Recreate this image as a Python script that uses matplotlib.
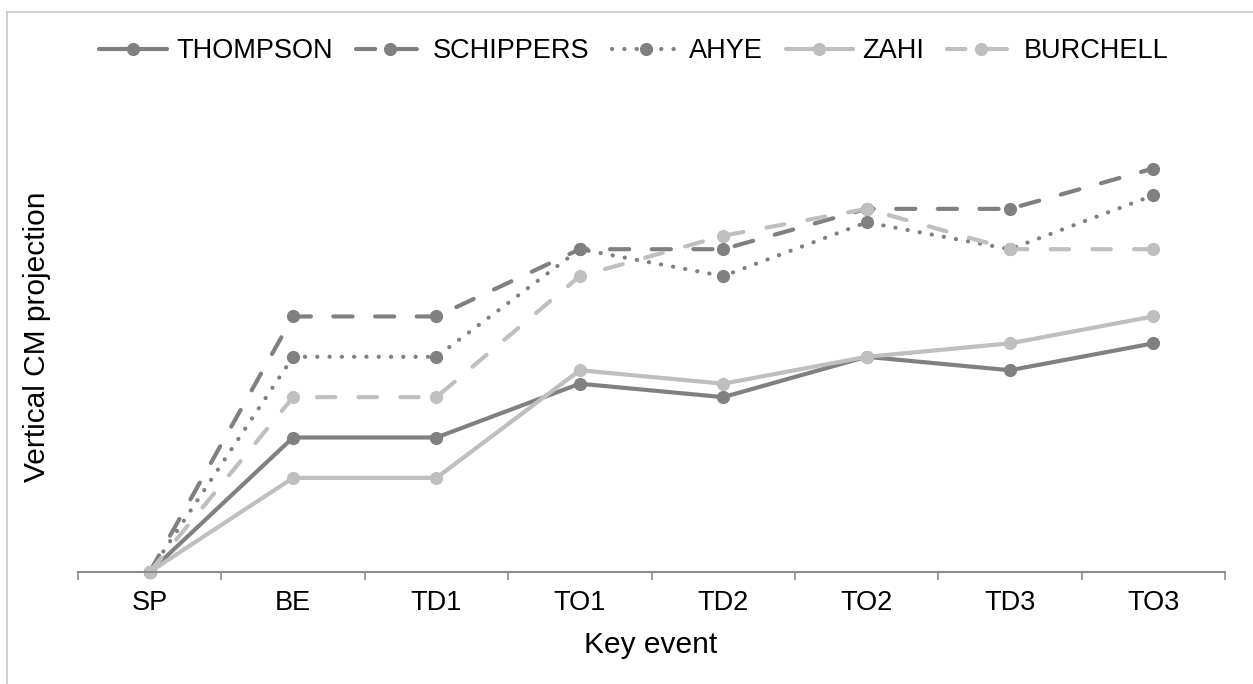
import matplotlib
matplotlib.use("Agg")
import matplotlib.pyplot as plt
from matplotlib.lines import Line2D

plt.rcParams['font.family'] = ['Liberation Sans', 'DejaVu Sans']

events = ["SP", "BE", "TD1", "TO1", "TD2", "TO2", "TD3", "TO3"]
thompson = [0, 10, 10, 14, 13, 16, 15, 17]
schippers = [0, 19, 19, 24, 24, 27, 27, 30]
ahye = [0, 16, 16, 24, 22, 26, 24, 28]
zahi = [0, 7, 7, 15, 14, 16, 17, 19]
burchell = [0, 13, 13, 22, 25, 27, 24, 24]

DARK = "#808080"
LIGHT = "#bfbfbf"

W, H = 1253, 684
fig = plt.figure(figsize=(W / 100, H / 100), dpi=100)

ax_left, ax_right, ax_bottom, ax_top = 78, 1225, 572, 74
ax = fig.add_axes([ax_left / W, 1 - ax_bottom / H,
                   (ax_right - ax_left) / W, (ax_bottom - ax_top) / H])

x = list(range(len(events)))
lw = 3.0
ms = 9.5
series = [
    ("THOMPSON", thompson, DARK, "-"),
    ("SCHIPPERS", schippers, DARK, (0, (4.6, 5.4))),
    ("AHYE", ahye, DARK, (0, (0.05, 2.9))),
    ("ZAHI", zahi, LIGHT, "-"),
    ("BURCHELL", burchell, LIGHT, (0, (4.4, 5.6))),
]
for name, vals, col, ls in series:
    ax.plot(x, vals, color=col, lw=lw, linestyle=ls, marker="o", markersize=ms,
            markeredgewidth=0, dash_capstyle="round", solid_capstyle="round",
            label=name, clip_on=False)

ax.set_xlim(-0.5, len(events) - 0.5)
ax.set_ylim(0, (ax_bottom - ax_top) / 13.45)
ax.set_xticks(x)
ax.set_xticklabels(events, fontsize=19.5)
ax.set_xticks([i - 0.5 for i in range(len(events) + 1)], minor=True)
ax.tick_params(axis="x", which="major", length=0, pad=13)
ax.tick_params(axis="x", which="minor", length=5.5, width=1.2, color="#8c8c8c")
ax.set_yticks([])
for s in ["top", "right", "left"]:
    ax.spines[s].set_visible(False)
ax.spines["bottom"].set_color("#8c8c8c")
ax.spines["bottom"].set_linewidth(1.5)

fig.text(651 / W, 1 - 645 / H, "Key event", fontsize=21.5, ha="center", va="center")
fig.text(37 / W, 1 - 337 / H, "Vertical CM projection", fontsize=21.5,
         rotation=90, ha="center", va="center")

leg = fig.legend(loc="center", bbox_to_anchor=(634 / W, 1 - 51 / H), ncol=5,
                 frameon=False, fontsize=19.5, handlelength=2.5,
                 handletextpad=0.33, columnspacing=0.85, borderaxespad=0,
                 borderpad=0)

# figure border (light gray, left and top)
fig.add_artist(Line2D([7 / W, 7 / W], [0, 1 - 12 / H], transform=fig.transFigure,
                      color="#c8c8c8", lw=1.2))
fig.add_artist(Line2D([7 / W, 1], [1 - 12 / H, 1 - 12 / H], transform=fig.transFigure,
                      color="#c8c8c8", lw=1.2))

fig.savefig("out.png", dpi=100)
